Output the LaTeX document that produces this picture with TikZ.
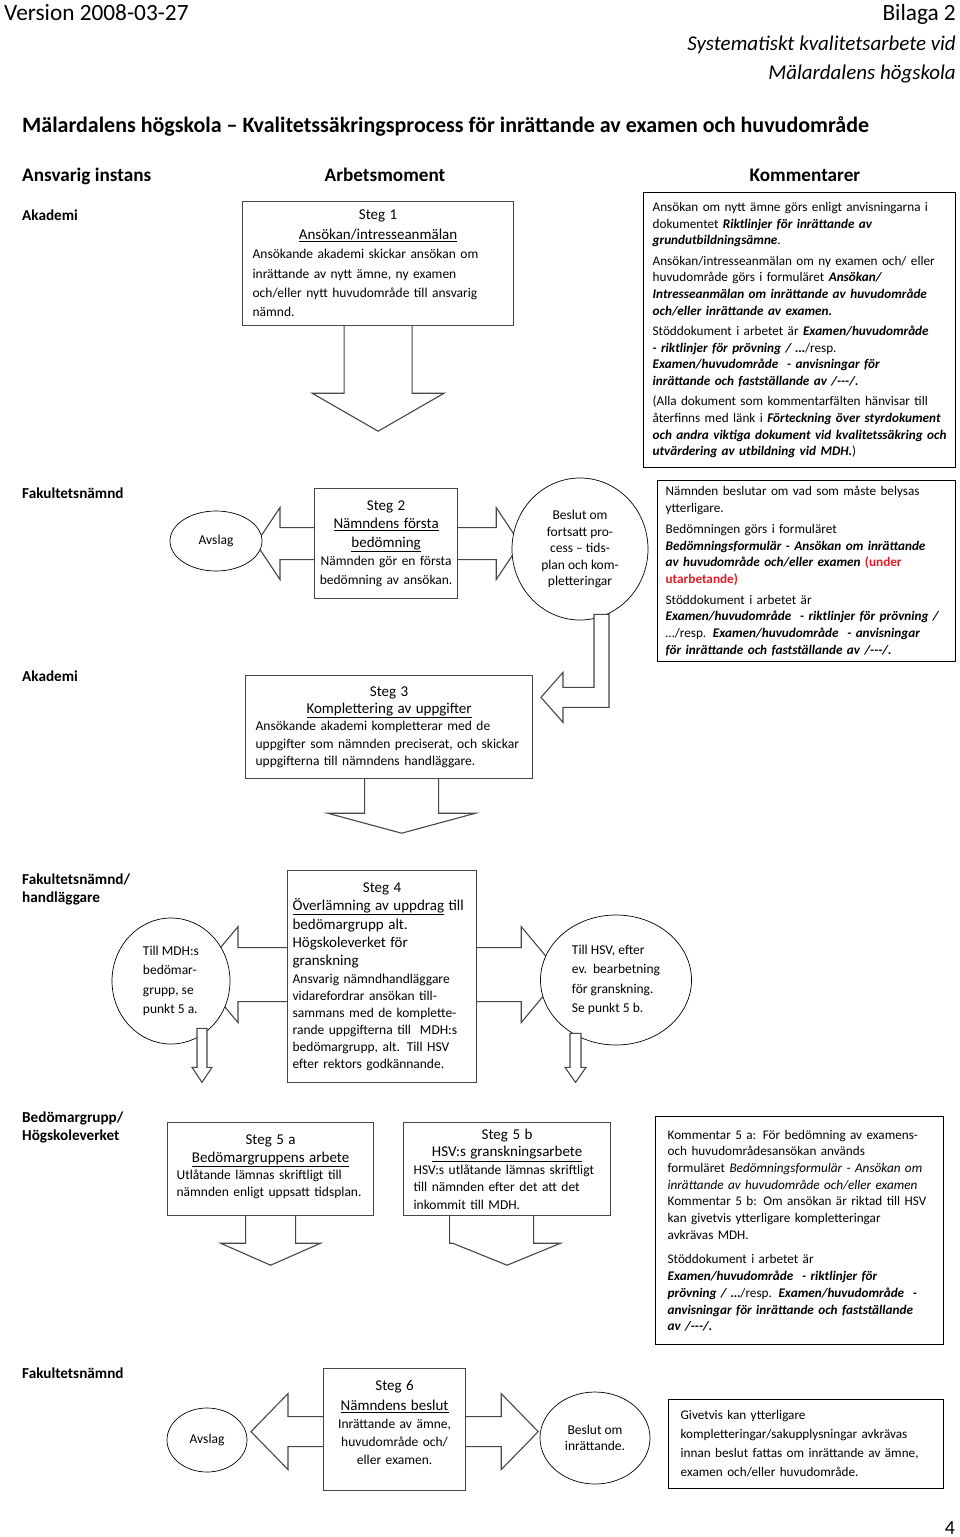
\documentclass[tikz,border=0pt]{standalone}
\usepackage{fontspec}
\setmainfont{Carlito}
\usetikzlibrary{positioning, calc, shapes.geometric, backgrounds}

\definecolor{linjegra}{RGB}{70,70,70}
\definecolor{utkastrod}{RGB}{226,28,36}

% rubrik i stegrutorna: centrerad rad + understruken rad
\newcommand{\stor}{\fontsize{15}{18}\selectfont}
\newcommand{\stegrubrik}[2]{\makebox[\hsize]{\stor #1}\\\makebox[\hsize]{\stor\underline{#2}}\\}
\newcommand{\bi}[1]{\textbf{\textit{#1}}}

\begin{document}
\begin{tikzpicture}[x=1pt, y=-1pt,
		% --- stilar ---
		stegbox/.style={
			rectangle,
			draw=linjegra,
			line width=1.2pt,
			fill=white,
			anchor=north west,
			inner sep=0pt,
			align=left,
			font=\fontsize{13.5}{17.4}\selectfont
		},
		kommentar/.style={
			rectangle,
			draw=black,
			line width=1.3pt,
			fill=white,
			anchor=north west,
			inner sep=0pt,
			align=left,
			font=\fontsize{13.2}{16.7}\selectfont
		},
		cirkel/.style={
			ellipse,
			draw=black,
			line width=0.7pt,
			fill=white,
			inner sep=0pt,
			align=center,
			font=\fontsize{13.5}{16.5}\selectfont
		},
		blockpil/.style={
			draw=linjegra,
			line width=1.1pt,
			fill=white,
			line join=miter
		},
		instans/.style={anchor=base west, inner sep=0pt, font=\bfseries\fontsize{15.2}{18}\selectfont},
		kolumn/.style={anchor=base, inner sep=0pt, font=\bfseries\fontsize{19.2}{22}\selectfont}
		]
		
		\useasboundingbox (0,0) rectangle (960,1537);
		
		% --- SIDHUVUD ---
		\node (version) [anchor=base west, inner sep=0pt, font=\fontsize{23.3}{26}\selectfont] at (4,20) {Version 2008-03-27};
		\node (bilaga) [anchor=base east, inner sep=0pt, font=\fontsize{23.3}{26}\selectfont] at (956,20) {Bilaga 2};
		\node (system) [anchor=base east, inner sep=0pt, font=\itshape\fontsize{21}{24}\selectfont] at (956,50) {Systematiskt kvalitetsarbete vid};
		\node (hogskola) [anchor=base east, inner sep=0pt, font=\itshape\fontsize{21}{24}\selectfont] at (956,79) {Mälardalens högskola};
		\node (titel) [anchor=base west, inner sep=0pt, font=\bfseries\fontsize{22}{26}\selectfont] at (22,132) {Mälardalens högskola – Kvalitetssäkringsprocess för inrättande av examen och huvudområde};
		
		% --- KOLUMNRUBRIKER ---
		\node (ansvarig) [kolumn, anchor=base west] at (22,181) {Ansvarig instans};
		\node (arbetsmoment) [kolumn] at (385,181) {Arbetsmoment};
		\node (kommentarer) [kolumn] at (805,181) {Kommentarer};
		
		% --- ANSVARIG INSTANS ---
		\node (akademi1) [instans] at (22,220) {Akademi};
		\node (fakultet2) [instans] at (22,498) {Fakultetsnämnd};
		\node (akademi3) [instans] at (22,681) {Akademi};
		\node (fakultet4) [instans] at (22,884) {Fakultetsnämnd/};
		\node (handl4) [instans] at (22,902) {handläggare};
		\node (bedomar5) [instans] at (22,1122) {Bedömargrupp/};
		\node (hsv5) [instans] at (22,1140) {Högskoleverket};
		\node (fakultet6) [instans] at (22,1378) {Fakultetsnämnd};
		
		% --- STEG 1 ---
		\node (steg1) [stegbox, minimum width=271, minimum height=124, text width=251, font=\fontsize{13.5}{19.4}\selectfont] at (242,201) {\stegrubrik{Steg 1}{Ansökan/intresseanmälan}Ansökande akademi skickar ansökan om\\inrättande av nytt ämne, ny examen\\och/eller nytt huvudområde till ansvarig\\nämnd.};
		\draw [blockpil] ($(steg1.south)+(-34,0)$) -- ++(0,67) -- ++(-32,0) -- ++(66,38) -- ++(66,-38) -- ++(-32,0) -- ++(0,-67);
		
		\node (komm1) [kommentar, minimum width=312, minimum height=275, text width=294] at (643,192) {
			Ansökan om nytt ämne görs enligt anvisningarna i\\
			dokumentet \bi{Riktlinjer för inrättande av}\\
			\bi{grundutbildningsämne}.\\[3.5pt]
			Ansökan/intresseanmälan om ny examen och/ eller\\
			huvudområde görs i formuläret \bi{Ansökan/}\\
			\bi{Intresseanmälan om inrättande av huvudområde}\\
			\bi{och/eller inrättande av examen.}\\[3.5pt]
			Stöddokument i arbetet är \bi{Examen/huvudområde}\\
			\bi{- riktlinjer för prövning / …}/resp.\\
			\bi{Examen/huvudområde\ \ - anvisningar för}\\
			\bi{inrättande och fastställande av /-{}-{}-/.}\\[3.5pt]
			(Alla dokument som kommentarfälten hänvisar till\\
			återfinns med länk i \bi{Förteckning över styrdokument}\\
			\bi{och andra viktiga dokument vid kvalitetssäkring och}\\
			\bi{utvärdering av utbildning vid MDH.})};
		
		% --- STEG 2 ---
		\node (steg2) [stegbox, align=center, minimum width=143, minimum height=110, text width=137, font=\fontsize{13.5}{18.5}\selectfont] at (314,488) {{\stor Steg 2}\\{\stor\underline{Nämndens första}}\\{\stor\underline{bedömning}}\\Nämnden gör en första\\bedömning av ansökan.};
		\node (avslag2) [cirkel, minimum width=92, minimum height=60] at (216,541) {Avslag};
		\node (beslut2) [cirkel, minimum width=136, minimum height=142] at (580,549) {Beslut om\\fortsatt pro-\\cess – tids-\\plan och kom-\\pletteringar};
		% Pil från beslutet ner till steg 3
		\draw [blockpil] ($(beslut2.south)+(14,-6)$) -- ++(0,73) -- ++(-31,0) -- ++(0,-15) -- ++(-22,25) -- ++(22,25) -- ++(0,-15) -- ++(46,0) -- ++(0,-93) -- cycle;
		
		\node (komm2) [kommentar, minimum width=298, minimum height=181, text width=282] at (657,480) {
			Nämnden beslutar om vad som måste belysas\\
			ytterligare.\\[4pt]
			Bedömningen görs i formuläret\\
			\bi{Bedömningsformulär - Ansökan om inrättande}\\
			\bi{av huvudområde och/eller examen} \textcolor{utkastrod}{\textbf{(under}}\\
			\textcolor{utkastrod}{\textbf{utarbetande)}}\\[4pt]
			Stöddokument i arbetet är\\
			\bi{Examen/huvudområde\ \ - riktlinjer för prövning /}\\
			…/resp. \bi{Examen/huvudområde\ \ - anvisningar}\\
			\bi{för inrättande och fastställande av /-{}-{}-/.}};
		
		% --- STEG 3 ---
		\node (steg3) [stegbox, minimum width=287, minimum height=103, text width=267] at (245,675) {\stegrubrik{Steg 3}{Komplettering av uppgifter}Ansökande akademi kompletterar med de\\uppgifter som nämnden preciserat, och skickar\\uppgifterna till nämndens handläggare.};
		\draw [blockpil] ($(steg3.south)+(-24.5,0)$) -- ++(0,34) -- ++(-37,0) -- ++(74,20) -- ++(74,-20) -- ++(-37,0) -- ++(0,-34);
		
		% --- STEG 4 ---
		\node (steg4) [stegbox, minimum width=189, minimum height=212, text width=179, font=\fontsize{13.5}{16.9}\selectfont] at (287,870) {\makebox[\hsize]{\stor Steg 4}\\[1.5pt]{\stor\underline{Överlämning av uppdrag} till}\\[1.5pt]{\stor bedömargrupp alt.}\\[1.5pt]{\stor Högskoleverket för}\\[1.5pt]{\stor granskning}\\[1pt]Ansvarig nämndhandläggare\\vidarefordrar ansökan till-\\sammans med de komplette-\\rande uppgifterna till\ \ MDH:s\\bedömargrupp, alt. Till HSV\\efter rektors godkännande.};
		\node (tillmdh) [cirkel, align=left, minimum width=118, minimum height=126, font=\fontsize{13.5}{19.3}\selectfont] at (171,981) {Till MDH:s\\bedömar-\\grupp, se\\punkt 5 a.};
		\node (tillhsv) [cirkel, align=left, minimum width=151, minimum height=130, font=\fontsize{13.5}{19.3}\selectfont] at (616,980) {Till HSV, efter\\ev.\ \ bearbetning\\för granskning.\\Se punkt 5 b.};
		% smala pilar ner till steg 5
		\draw [blockpil] ($(tillmdh.south)+(26,-16)$) -- ++(0,39) -- ++(-5,0) -- ++(10,15) -- ++(10,-15) -- ++(-5,0) -- ++(0,-39) -- cycle;
		\draw [blockpil] ($(tillhsv.south)+(-46,-12)$) -- ++(0,34) -- ++(-5,0) -- ++(10.5,15) -- ++(10.5,-15) -- ++(-5,0) -- ++(0,-34) -- cycle;
		
		% --- STEG 5 ---
		\node (steg5a) [stegbox, minimum width=206, minimum height=93, text width=188] at (167,1122) {\stegrubrik{Steg 5 a}{Bedömargruppens arbete}Utlåtande lämnas skriftligt till\\nämnden enligt uppsatt tidsplan.\\[-11pt]\mbox{}};
		\draw [blockpil] ($(steg5a.south)+(-25,0)$) -- ++(0,27) -- ++(-25,0) -- ++(50,22) -- ++(50,-22) -- ++(-25,0) -- ++(0,-27);
		
		\node (steg5b) [stegbox, minimum width=207, minimum height=93, text width=187] at (403,1122) {\stegrubrik{Steg 5 b}{HSV:s granskningsarbete}HSV:s utlåtande lämnas skriftligt\\till nämnden efter det att det\\inkommit till MDH.};
		\draw [blockpil] ($(steg5b.south)+(-57.5,0)$) -- ++(0,27) -- ++(3,0) -- ++(54.5,22) -- ++(53.5,-22) -- ++(-27,0) -- ++(0,-27);
		
		\node (komm3) [kommentar, minimum width=288, minimum height=228, text width=264] at (655,1116) {
			Kommentar 5 a: För bedömning av examens-\\
			och huvudområdesansökan används\\
			formuläret \textit{Bedömningsformulär - Ansökan om}\\
			\textit{inrättande av huvudområde och/eller examen}\\
			Kommentar 5 b: Om ansökan är riktad till HSV\\
			kan givetvis ytterligare kompletteringar\\
			avkrävas MDH.\\[8pt]
			Stöddokument i arbetet är\\
			\bi{Examen/huvudområde\ \ - riktlinjer för}\\
			\bi{prövning / …}/resp. \bi{Examen/huvudområde\ \ -}\\
			\bi{anvisningar för inrättande och fastställande}\\
			\bi{av /-{}-{}-/.}};
		
		% --- STEG 6 ---
		\node (steg6) [stegbox, align=center, minimum width=142, minimum height=122, text width=136, font=\fontsize{13.5}{18}\selectfont] at (323,1368) {{\stor Steg 6}\\[2pt]{\stor\underline{Nämndens beslut}}\\Inrättande av ämne,\\huvudområde och/\\eller examen.\\[-4pt]\mbox{}};
		\node (avslag6) [cirkel, minimum width=80, minimum height=64] at (207,1440) {Avslag};
		\node (beslut6) [cirkel, minimum width=110, minimum height=92] at (595,1438) {Beslut om\\inrättande.};
		
		\node (komm4) [kommentar, minimum width=275, minimum height=89, text width=251, font=\fontsize{13.2}{19}\selectfont] at (668,1399) {Givetvis kan ytterligare\\kompletteringar/sakupplysningar avkrävas\\innan beslut fattas om inrättande av ämne,\\examen och/eller huvudområde.};
		
		\node (sidnr) [anchor=base, inner sep=0pt, font=\fontsize{20}{24}\selectfont] at (950,1534) {4};
		
		% --- PILAR BAKOM RUTOR OCH CIRKLAR ---
		\begin{pgfonlayer}{background}
			\draw [blockpil] ($(steg2.west)+(0,-16)$) -- ++(-34,0) -- ++(0,-20) -- ++(-24,36) -- ++(24,36) -- ++(0,-20) -- ++(34,0);
			\draw [blockpil] ($(steg2.east)+(0,-16)$) -- ++(38,0) -- ++(0,-20) -- ++(24,36) -- ++(-24,36) -- ++(0,-20) -- ++(-38,0);
			\draw [blockpil] ($(steg4.west)+(0,-29)$) -- ++(-49,0) -- ++(0,-21) -- ++(-40,48) -- ++(40,48) -- ++(0,-21) -- ++(49,0);
			\draw [blockpil] ($(steg4.east)+(0,-29)$) -- ++(44,0) -- ++(0,-21) -- ++(40,48) -- ++(-40,48) -- ++(0,-21) -- ++(-44,0);
			\draw [blockpil] ($(steg6.west)+(0,-13)$) -- ++(-35,0) -- ++(0,-23) -- ++(-37,38) -- ++(37,38) -- ++(0,-23) -- ++(35,0);
			\draw [blockpil] ($(steg6.east)+(0,-13)$) -- ++(35,0) -- ++(0,-23) -- ++(37,38) -- ++(-37,38) -- ++(0,-23) -- ++(-35,0);
		\end{pgfonlayer}
		
	\end{tikzpicture}
\end{document}
